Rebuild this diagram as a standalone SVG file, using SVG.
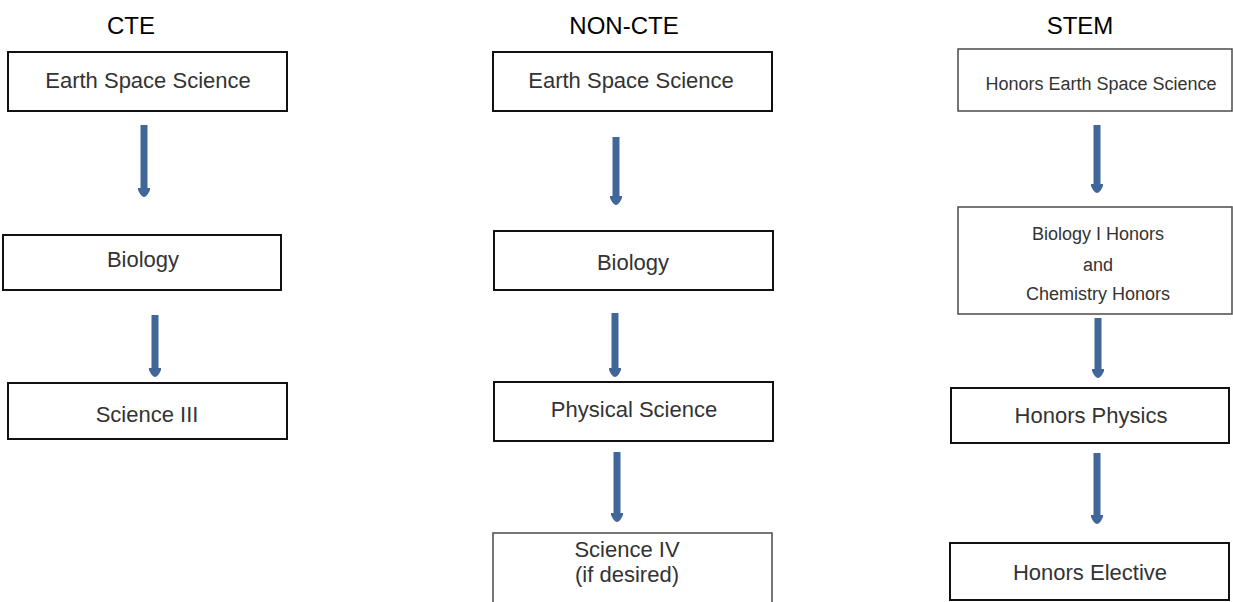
<svg xmlns="http://www.w3.org/2000/svg" width="1233" height="602" viewBox="0 0 1233 602">
<style>
.bg{fill:#ffffff}
.box{fill:#ffffff;stroke:#111111;stroke-width:2}
.boxg{fill:#ffffff;stroke:#555555;stroke-width:1.6}
.title{font-family:"Liberation Sans",Arial,sans-serif;font-size:24px;fill:#000000;text-anchor:middle}
.lbl{font-family:"Liberation Sans",Arial,sans-serif;font-size:22px;fill:#333333;text-anchor:middle}
.sm{font-family:"Liberation Sans",Arial,sans-serif;font-size:18px;fill:#333333;text-anchor:middle}
.arr{fill:none;stroke:#41679a;stroke-width:7;marker-end:url(#head)}
</style>
<defs>
<marker id="head" markerUnits="userSpaceOnUse" viewBox="-1 -7 11 14" refX="0" refY="0" markerWidth="11" markerHeight="14" orient="auto">
<path d="M0,-6 L2,-6 Q9,-3 9,0 Q9,3 2,6 L0,6 Z" fill="#41679a"/>
</marker>
</defs>
<rect class="bg" x="0" y="0" width="1233" height="602"/>
<g id="titles">
<text class="title" x="131" y="34">CTE</text>
<text class="title" x="624" y="34">NON-CTE</text>
<text class="title" x="1080" y="34">STEM</text>
</g>
<g id="connectors">
<path class="arr" d="M144,125 V188"/>
<path class="arr" d="M155,315 V368"/>
<path class="arr" d="M616,137 V196"/>
<path class="arr" d="M615,313 V368"/>
<path class="arr" d="M617,452 V513"/>
<path class="arr" d="M1097,125 V184"/>
<path class="arr" d="M1098,318 V369"/>
<path class="arr" d="M1097,453 V515"/>
</g>
<g id="cte-earth">
<rect class="box" x="8" y="52" width="279" height="59"/>
<text class="lbl" x="148" y="88">Earth Space Science</text>
</g>
<g id="cte-biology">
<rect class="box" x="3" y="235" width="278" height="55"/>
<text class="lbl" x="143" y="267">Biology</text>
</g>
<g id="cte-science3">
<rect class="box" x="8" y="383" width="279" height="56"/>
<text class="lbl" x="147" y="422">Science III</text>
</g>
<g id="noncte-earth">
<rect class="box" x="493" y="52" width="279" height="59"/>
<text class="lbl" x="631" y="88">Earth Space Science</text>
</g>
<g id="noncte-biology">
<rect class="box" x="494" y="231" width="279" height="59"/>
<text class="lbl" x="633" y="270">Biology</text>
</g>
<g id="noncte-physical">
<rect class="box" x="494" y="382" width="279" height="59"/>
<text class="lbl" x="634" y="417">Physical Science</text>
</g>
<g id="noncte-science4">
<rect class="boxg" x="493" y="533" width="279" height="80"/>
<text class="lbl" x="627" y="557">Science IV</text>
<text class="lbl" x="627" y="582">(if desired)</text>
</g>
<g id="stem-earth">
<rect class="boxg" x="958" y="49" width="274" height="62"/>
<text class="sm" x="1101" y="90">Honors Earth Space Science</text>
</g>
<g id="stem-bio-chem">
<rect class="boxg" x="958" y="207" width="274" height="107"/>
<text class="sm" x="1098" y="240">Biology I Honors</text>
<text class="sm" x="1098" y="271">and</text>
<text class="sm" x="1098" y="300">Chemistry Honors</text>
</g>
<g id="stem-physics">
<rect class="box" x="951" y="388" width="278" height="55"/>
<text class="lbl" x="1091" y="423">Honors Physics</text>
</g>
<g id="stem-elective">
<rect class="box" x="950" y="543" width="279" height="57"/>
<text class="lbl" x="1090" y="580">Honors Elective</text>
</g>
</svg>
